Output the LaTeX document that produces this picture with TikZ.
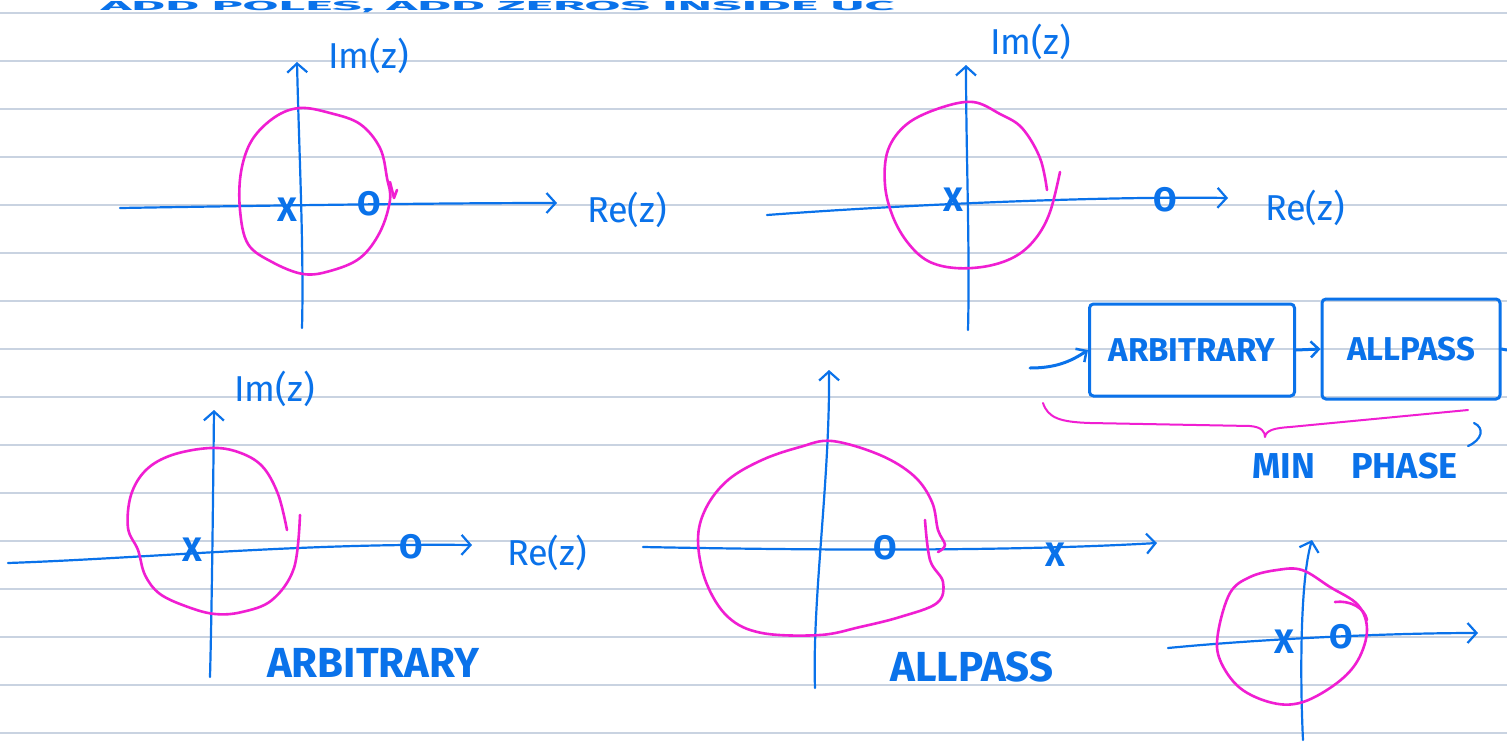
\documentclass[tikz,border=0pt]{standalone}
\usepackage{fontspec}
\setmainfont{Fira Sans}
\usetikzlibrary{arrows.meta}
\definecolor{pen}{HTML}{0A72EA}
\definecolor{hl}{HTML}{F01ED2}
\definecolor{rule}{HTML}{C9D3E1}
\tikzset{
  axis/.style={draw=pen, line width=2.2pt, line cap=round, line join=round},
  axarrow/.style={axis, -{Straight Barb[length=9pt,width=20pt,line width=2.2pt]}},
  ucircle/.style={draw=hl, line width=2.6pt, line cap=round, line join=round},
  lbl/.style={text=pen, font=\fontsize{36}{36}\selectfont\mdseries, inner sep=0pt},
  pzmark/.style={text=pen, font=\fontsize{34}{34}\selectfont\bfseries, inner sep=0pt},
  captext/.style={text=pen, font=\fontsize{42}{42}\selectfont\bfseries, inner sep=0pt},
  blockbox/.style={draw=pen, line width=3pt, rounded corners=4pt, inner sep=0pt},
  blocktext/.style={text=pen, font=\fontsize{33}{33}\selectfont\bfseries, inner sep=0pt},
  wire/.style={draw=pen, line width=3pt, line cap=round},
}
\begin{document}
\begin{tikzpicture}[x=1pt,y=-1pt]
\useasboundingbox (0,0) rectangle (1507,742);
\clip (0,0) rectangle (1507,742);
\fill[white] (0,0) rectangle (1507,742);
% ruled lines
\foreach \k in {0,...,15}{\draw[rule, line width=2pt] (0,13+48*\k) -- (1507,13+48*\k);}
% title (top strip)
\node[text=pen, font=\fontsize{13}{13}\selectfont\bfseries, anchor=base west, inner sep=0pt, xscale=4.0] (title) at (100,10.5) {ADD POLES, ADD ZEROS INSIDE UC};

% ===== plot 1 =====
\coordinate (p1l) at (120,208); \coordinate (p1r) at (557,203);
\coordinate (p1b) at (302,328); \coordinate (p1t) at (297,62);
\draw[axarrow] (p1l) .. controls (300,205) and (450,203) .. (p1r);
\draw[axarrow] (p1b) .. controls (304,250) and (299,150) .. (p1t);
\node[lbl, anchor=west] (p1im) at (328,56) {Im(z)};
\node[lbl] (p1re) at (627,210) {Re(z)};
\node[pzmark] (p1x) at (287,210) {X};
\node[pzmark] (p1o) at (369,204) {O};
\draw[ucircle] plot[smooth cycle, tension=0.6] coordinates {(300,108) (330,113) (360,124) (380,148) (387,178) (390,200) (380,232) (360,258) (330,271) (303,274) (272,262) (248,244) (240,210) (241,172) (252,140) (275,117)};
\draw[ucircle] (390,182) -- (394,198) -- (397,190);

% ===== plot 2 =====
\coordinate (p2l) at (767,215); \coordinate (p2r) at (1228,198);
\coordinate (p2b) at (968,330); \coordinate (p2t) at (966,65);
\draw[axarrow] (p2l) .. controls (900,205) and (1100,196) .. (p2r);
\draw[axarrow] (p2b) .. controls (970,250) and (966,150) .. (p2t);
\node[lbl, anchor=west] (p2im) at (990,42) {Im(z)};
\node[lbl] (p2re) at (1305,208) {Re(z)};
\node[pzmark] (p2x) at (953,200) {X};
\node[pzmark] (p2o) at (1165,200) {O};
\draw[ucircle] plot[smooth, tension=0.6] coordinates {(1047,190) (1040,158) (1022,128) (1000,114) (973,102) (940,108) (907,124) (888,150) (885,185) (893,217) (908,243) (928,261) (955,268) (988,266) (1016,256) (1036,238) (1050,212) (1060,172)};

% ===== plot 3 =====
\coordinate (p3l) at (8,563); \coordinate (p3r) at (472,545);
\coordinate (p3b) at (210,677); \coordinate (p3t) at (214,410);
\draw[axarrow] (p3l) .. controls (150,558) and (300,543) .. (p3r);
\draw[axarrow] (p3b) .. controls (212,600) and (213,500) .. (p3t);
\node[lbl, anchor=west] (p3im) at (234,389) {Im(z)};
\node[lbl] (p3re) at (547,553) {Re(z)};
\node[pzmark] (p3x) at (192,550) {X};
\node[pzmark] (p3o) at (411,547) {O};
\draw[ucircle] plot[smooth, tension=0.6] coordinates {(300,515) (294,568) (272,600) (242,612) (215,614) (188,607) (160,594) (145,575) (138,550) (128,528) (131,495) (146,470) (172,455) (210,448) (238,452) (262,466) (278,494) (287,530)};
\node[captext] (arb) at (373,663) {ARBITRARY};

% ===== plot 4 =====
\coordinate (p4l) at (643,547); \coordinate (p4r) at (1157,543);
\coordinate (p4b) at (815,688); \coordinate (p4t) at (829,370);
\draw[axarrow] (p4l) .. controls (800,550) and (1000,552) .. (p4r);
\draw[axarrow] (p4b) .. controls (812,600) and (830,480) .. (p4t);
\node[pzmark] (p4x) at (1055,555) {X};
\node[pzmark] (p4o) at (885,548) {O};
\draw[ucircle] plot[smooth, tension=0.6] coordinates {(925,520) (930,560) (943,582) (937,603) (900,617) (860,627) (820,635) (762,633) (728,617) (706,582) (698,540) (706,508) (728,480) (762,460) (800,447) (832,441) (880,455) (914,476) (932,502) (938,530) (945,545) (938,552)};
\node[captext] (allp) at (972,667) {ALLPASS};

% ===== plot 5 =====
\coordinate (p5l) at (1168,648); \coordinate (p5r) at (1478,633);
\coordinate (p5b) at (1303,740); \coordinate (p5t) at (1312,540);
\draw[axarrow] (p5l) .. controls (1250,640) and (1380,633) .. (p5r);
\draw[axarrow] (p5b) .. controls (1300,680) and (1300,580) .. (p5t);
\node[pzmark] (p5x) at (1284,642) {X};
\node[pzmark] (p5o) at (1341,637) {O};
\draw[ucircle] plot[smooth cycle, tension=0.6] coordinates {(1302,570) (1330,587) (1358,605) (1367,630) (1358,660) (1337,683) (1303,702) (1273,703) (1240,688) (1220,660) (1218,633) (1230,593) (1250,577) (1277,570)};
\draw[ucircle] (1335,602) .. controls (1350,600) and (1365,608) .. (1367,620);

% ===== block diagram =====
\node[blockbox, minimum width=205pt, minimum height=92pt] (b1) at (1192,350) {};
\node[blocktext] (b1t) at (b1) {ARBITRARY};
\node[blockbox, minimum width=178pt, minimum height=100pt] (b2) at (1411,349) {};
\node[blocktext] (b2t) at (b2) {ALLPASS};
\coordinate (bin) at (1030,368);
\coordinate (bout) at (1507,350);
\draw[wire, -{Straight Barb[length=8pt,width=16pt,line width=2.5pt]}] (bin) .. controls (1055,368) and (1070,362) .. (b1.west);
\draw[wire, -{Straight Barb[length=8pt,width=16pt,line width=2.5pt]}] (b1.east) -- (b2.west);
\draw[wire] (b2.east) -- (bout);
% min phase brace
\draw[ucircle, line width=2pt] (1043,403) .. controls (1048,418) and (1060,422) .. (1090,423) -- (1250,426) .. controls (1262,427) and (1265,432) .. (1265,437) .. controls (1266,430) and (1275,428) .. (1290,427) -- (1468,410);
\draw[axis] (1474,423) .. controls (1485,428) and (1482,440) .. (1468,446);
\node[captext, font=\fontsize{36}{36}\selectfont\bfseries] (minph) at (1355,466) {MIN\quad PHASE};
\end{tikzpicture}
\end{document}
